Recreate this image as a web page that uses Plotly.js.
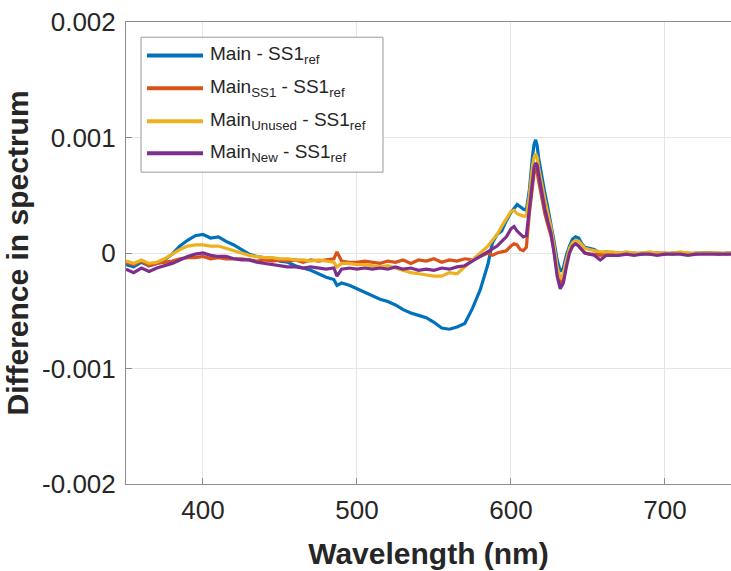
<!DOCTYPE html>
<html>
<head>
<meta charset="utf-8">
<script src="https://cdn.plot.ly/plotly-3.0.1.min.js"></script>
<style>
html,body{margin:0;padding:0;overflow:hidden;background:#fff;}
#chart{width:731px;height:571px;}
</style>
</head>
<body>
<div id="chart"></div>
<script>
// Wavelength (nm)
const wavelength = [350,355,360,365,370,375,380,385,390,395,400,405,410,415,420,425,430,435,440,445,450,455,460,465,470,475,480,485,487,490,495,500,505,510,515,520,525,530,535,540,545,550,555,560,565,570,575,580,585,
588,591,594,597,600,602,604,606,608,610,612,614,615,616,617,618,620,622,624,626,628,630,632,634,636,638,640,642,644,646,648,651,654,658,662,666,
670,675,680,685,690,695,700,705,710,715,720,725,730,735,740,745,750];

// Main - SS1ref
const mainRef = [-1.0e-4,-1.2e-4,-0.8e-4,-1.1e-4,-0.9e-4,-0.6e-4,-0.1e-4,0.6e-4,1.1e-4,1.5e-4,1.6e-4,1.3e-4,1.4e-4,1.0e-4,0.7e-4,0.3e-4,-0.1e-4,-0.3e-4,-0.4e-4,-0.5e-4,-0.7e-4,-0.8e-4,-1.1e-4,-1.3e-4,-1.5e-4,-1.8e-4,-2.1e-4,-2.3e-4,-2.8e-4,-2.6e-4,-2.8e-4,-3.1e-4,-3.4e-4,-3.7e-4,-4.0e-4,-4.2e-4,-4.5e-4,-4.9e-4,-5.2e-4,-5.4e-4,-5.6e-4,-6.0e-4,-6.5e-4,-6.6e-4,-6.4e-4,-6.1e-4,-4.8e-4,-3.2e-4,-1.0e-4,
0.9e-4,1.6e-4,1.9e-4,2.8e-4,3.5e-4,3.9e-4,4.2e-4,4.0e-4,3.8e-4,3.7e-4,5.5e-4,8.4e-4,9.4e-4,9.8e-4,9.3e-4,8.2e-4,6.5e-4,5.2e-4,3.9e-4,2.6e-4,1.0e-4,-0.6e-4,-1.6e-4,-1.3e-4,-0.2e-4,0.6e-4,1.2e-4,1.4e-4,1.3e-4,0.8e-4,0.5e-4,0.4e-4,0.3e-4,0.0e-4,0.1e-4,0.0e-4,
0.0e-4,-0.1e-4,0.0e-4,-0.1e-4,0.0e-4,0.0e-4,-0.1e-4,0.0e-4,0.0e-4,-0.1e-4,0.0e-4,0.0e-4,0.0e-4,-0.1e-4,0.0e-4,0.0e-4,0.0e-4];

// MainSS1 - SS1ref
const mainSS1Ref = [-0.8e-4,-1.0e-4,-0.7e-4,-1.1e-4,-0.9e-4,-0.8e-4,-0.7e-4,-0.5e-4,-0.4e-4,-0.4e-4,-0.3e-4,-0.5e-4,-0.4e-4,-0.5e-4,-0.5e-4,-0.5e-4,-0.6e-4,-0.7e-4,-0.6e-4,-0.7e-4,-0.6e-4,-0.7e-4,-0.6e-4,-0.8e-4,-0.6e-4,-0.7e-4,-0.6e-4,-0.5e-4,0.1e-4,-0.7e-4,-0.8e-4,-0.8e-4,-0.7e-4,-0.8e-4,-0.9e-4,-0.7e-4,-0.8e-4,-0.6e-4,-0.9e-4,-0.6e-4,-0.7e-4,-0.5e-4,-0.8e-4,-0.6e-4,-0.7e-4,-0.5e-4,-0.6e-4,-0.3e-4,0.0e-4,
-0.2e-4,0.0e-4,0.1e-4,0.2e-4,0.6e-4,0.8e-4,0.7e-4,0.3e-4,0.2e-4,0.5e-4,3.5e-4,6.0e-4,6.9e-4,7.3e-4,7.0e-4,6.2e-4,4.6e-4,3.4e-4,2.4e-4,1.5e-4,0.2e-4,-1.6e-4,-2.7e-4,-2.3e-4,-0.9e-4,0.1e-4,0.6e-4,0.8e-4,0.6e-4,0.3e-4,0.0e-4,-0.1e-4,-0.1e-4,-0.2e-4,-0.1e-4,-0.1e-4,
-0.1e-4,0.0e-4,-0.1e-4,0.0e-4,-0.1e-4,0.0e-4,0.0e-4,-0.1e-4,0.0e-4,0.0e-4,-0.1e-4,0.0e-4,0.0e-4,0.0e-4,-0.1e-4,0.0e-4,0.0e-4];

// MainUnused - SS1ref
const mainUnusedRef = [-0.7e-4,-0.9e-4,-0.6e-4,-0.9e-4,-0.8e-4,-0.5e-4,-0.1e-4,0.3e-4,0.6e-4,0.7e-4,0.7e-4,0.6e-4,0.6e-4,0.4e-4,0.2e-4,0.0e-4,-0.2e-4,-0.3e-4,-0.4e-4,-0.4e-4,-0.5e-4,-0.5e-4,-0.6e-4,-0.6e-4,-0.7e-4,-0.6e-4,-0.7e-4,-0.8e-4,-1.2e-4,-0.9e-4,-0.9e-4,-1.0e-4,-1.0e-4,-1.1e-4,-1.2e-4,-1.1e-4,-1.3e-4,-1.5e-4,-1.7e-4,-1.8e-4,-1.9e-4,-2.0e-4,-2.0e-4,-1.7e-4,-1.8e-4,-1.2e-4,-0.6e-4,0.0e-4,0.6e-4,
1.1e-4,1.6e-4,2.3e-4,2.9e-4,3.6e-4,3.7e-4,3.4e-4,3.3e-4,3.2e-4,3.2e-4,5.0e-4,7.5e-4,8.3e-4,8.6e-4,8.3e-4,7.4e-4,5.9e-4,4.6e-4,3.4e-4,2.2e-4,0.6e-4,-1.2e-4,-2.2e-4,-1.8e-4,-0.6e-4,0.4e-4,0.9e-4,1.1e-4,1.0e-4,0.7e-4,0.4e-4,0.3e-4,0.2e-4,0.1e-4,0.1e-4,0.1e-4,
0.0e-4,0.1e-4,0.0e-4,0.0e-4,0.1e-4,0.0e-4,0.0e-4,0.0e-4,0.1e-4,0.0e-4,0.0e-4,0.0e-4,0.0e-4,0.0e-4,0.0e-4,0.0e-4,0.0e-4];

// MainNew - SS1ref
const mainNewRef = [-1.4e-4,-1.7e-4,-1.3e-4,-1.6e-4,-1.3e-4,-1.1e-4,-0.9e-4,-0.6e-4,-0.3e-4,-0.1e-4,0.0e-4,-0.2e-4,-0.3e-4,-0.3e-4,-0.5e-4,-0.6e-4,-0.6e-4,-0.8e-4,-0.9e-4,-1.0e-4,-1.1e-4,-1.2e-4,-1.2e-4,-1.3e-4,-1.2e-4,-1.3e-4,-1.4e-4,-1.3e-4,-2.0e-4,-1.4e-4,-1.3e-4,-1.4e-4,-1.3e-4,-1.4e-4,-1.3e-4,-1.4e-4,-1.2e-4,-1.4e-4,-1.3e-4,-1.5e-4,-1.4e-4,-1.5e-4,-1.3e-4,-1.4e-4,-1.2e-4,-1.1e-4,-0.7e-4,-0.3e-4,0.1e-4,
0.3e-4,0.6e-4,1.0e-4,1.4e-4,2.1e-4,2.3e-4,1.9e-4,1.6e-4,1.4e-4,1.5e-4,3.8e-4,6.5e-4,7.4e-4,7.8e-4,7.6e-4,6.8e-4,5.2e-4,3.8e-4,2.7e-4,1.7e-4,0.0e-4,-2.0e-4,-3.1e-4,-2.6e-4,-1.2e-4,0.0e-4,0.6e-4,0.8e-4,0.6e-4,0.3e-4,0.0e-4,-0.1e-4,-0.2e-4,-0.6e-4,-0.2e-4,-0.2e-4,
-0.2e-4,-0.1e-4,-0.2e-4,-0.1e-4,-0.1e-4,-0.2e-4,-0.1e-4,-0.1e-4,-0.1e-4,-0.2e-4,-0.1e-4,-0.1e-4,-0.1e-4,-0.1e-4,-0.1e-4,-0.1e-4,-0.1e-4];

const seriesNames = ['Main - SS1<sub>ref</sub>','Main<sub>SS1</sub> - SS1<sub>ref</sub>','Main<sub>Unused</sub> - SS1<sub>ref</sub>','Main<sub>New</sub> - SS1<sub>ref</sub>'];
const seriesColors = ['#0072BD','#D95319','#EDB120','#7E2F8E'];
const seriesValues = [mainRef, mainSS1Ref, mainUnusedRef, mainNewRef];

const xTickVals = [400,500,600,700];
const xTickText = ['400','500','600','700'];
const yTickVals = [-0.002,-0.001,0,0.001,0.002];
const yTickText = ['-0.002','-0.001','0','0.001','0.002'];

const FONT = '"Liberation Sans", Arial, Helvetica, sans-serif';
const TXT = '#262626';

const traces = seriesValues.map((vals, i) => ({
  type: 'scatter', mode: 'lines', x: wavelength, y: vals,
  name: seriesNames[i], line: {color: seriesColors[i], width: 3.2},
  showlegend: false, hoverinfo: 'x+y'
}));

// custom legend (MATLAB style), paper coordinates
const legX0 = 0.0248, legX1 = 0.4248, legY0 = 0.675, legY1 = 0.967;
const rowY = [0.9277, 0.8566, 0.7852, 0.716];
const shapes = [{type:'rect', xref:'paper', yref:'paper', x0:legX0, x1:legX1, y0:legY0, y1:legY1,
  line:{color:'#999999', width:1}, fillcolor:'#ffffff', layer:'above'}];
const annotations = [];
rowY.forEach((yy, i) => {
  shapes.push({type:'line', xref:'paper', yref:'paper', x0:0.0347, x1:0.1273, y0:yy, y1:yy,
    line:{color:seriesColors[i], width:4}, layer:'above'});
  annotations.push({xref:'paper', yref:'paper', x:0.1355, y:yy, xanchor:'left', yanchor:'middle',
    text: seriesNames[i], showarrow:false, font:{family:FONT, size:19, color:TXT}});
});

const layout = {
  width: 731, height: 571,
  margin: {l:126, r:0, t:22, b:87},
  paper_bgcolor: '#ffffff', plot_bgcolor: '#ffffff',
  font: {family: FONT, color: TXT},
  xaxis: {
    range: [350, 742.9], tickvals: xTickVals, ticktext: xTickText,
    ticks: 'inside', ticklen: 6, tickcolor: '#8c8c8c', tickwidth: 1,
    showline: true, linecolor: '#8c8c8c', linewidth: 1, mirror: true,
    showgrid: true, gridcolor: '#e6e6e6', gridwidth: 1, zeroline: false,
    tickfont: {family: FONT, size: 26, color: TXT}, ticklabelstandoff: 3,
    title: {text: '<b>Wavelength (nm)</b>', font: {family: FONT, size: 30, color: TXT}, standoff: 18}
  },
  yaxis: {
    range: [-0.002, 0.002], tickvals: yTickVals, ticktext: yTickText,
    ticks: 'inside', ticklen: 6, tickcolor: '#8c8c8c', tickwidth: 1,
    showline: true, linecolor: '#8c8c8c', linewidth: 1, mirror: false,
    showgrid: true, gridcolor: '#e6e6e6', gridwidth: 1, zeroline: false,
    tickfont: {family: FONT, size: 26, color: TXT}, ticklabelstandoff: 4,
    title: {text: '<b>Difference in spectrum</b>', font: {family: FONT, size: 30, color: TXT}, standoff: 4}
  },
  shapes: shapes,
  annotations: annotations
};

Plotly.newPlot('chart', traces, layout, {displayModeBar: false, staticPlot: true});
</script>
</body>
</html>
